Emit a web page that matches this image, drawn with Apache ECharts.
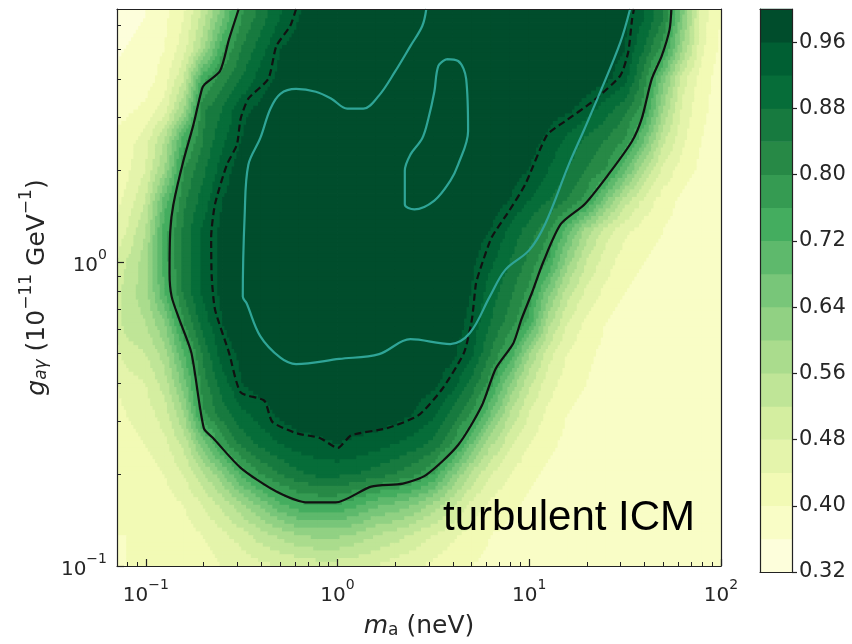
<!DOCTYPE html>
<html><head><meta charset="utf-8">
<script src="https://cdn.jsdelivr.net/npm/echarts@6.0.0/dist/echarts.min.js"></script>
<style>html,body{margin:0;padding:0;background:#fff}#chart{width:852px;height:644px}</style>
</head><body><div id="chart"></div>
<script>
// ---- grid nodes (log10 m_a [neV], log10 g [1e-11 GeV^-1]) ----
const X_NODES = [-1.2,-1.1,-1.0,-0.9,-0.8,-0.7,-0.6,-0.5,-0.4,-0.3,-0.2,-0.1,0.0,0.1,0.2,0.3,0.4,0.5,0.6,0.7,0.8,0.9,1.0,1.1,1.2,1.3,1.4,1.5,1.6,1.7,1.8,1.9,2.0];
const Y_NODES = [0.9,0.8,0.7,0.6,0.5,0.4,0.3,0.2,0.1,0.0,-0.1,-0.2,-0.3,-0.4,-0.5,-0.6,-0.7,-0.8,-0.9,-1.0];
// field values x100, one row per Y_NODES entry (top to bottom)
const F_090 = [35,35,36,38,42, 51,63,77,84,90, 95,98,99,99,99, 99,99,99,99,99, 99,99,99,99,99, 99,99,97,93,85, 68,48,41];
const F_080 = [35,35,36,39,44, 54,67,80,86,92, 96,98,99,99,99, 99,99,99,99,99, 99,99,99,99,99, 99,99,97,92,84, 65,46,40];
const F_070 = [35,36,37,40,46, 58,75,84,90,96, 98,99,99,99,99, 99,99,99,99,99, 99,99,99,99,99, 99,98,96,88,78, 60,45,39];
const F_060 = [36,37,38,42,52, 75,82,88,94,97, 99,99,99,99,99, 99,99,99,99,99, 99,99,99,99,99, 99,97,94,82,66, 50,42,38];
const F_050 = [38,39,41,46,60, 83,88,95,97,99, 99,99,99,99,99, 99,99,99,99,99, 99,99,99,98,97, 94,90,85,78,60, 47,41,38];
const F_040 = [40,42,46,56,74, 84,91,96,99,99, 99,99,99,99,99, 99,99,99,99,99, 99,99,98,95,91, 87,84,80,68,53, 45,40,37];
const F_030 = [40,43,48,60,80, 87,94,98,99,99, 99,99,99,99,99, 99,99,99,99,99, 99,98,96,92,88, 84,80,69,56,47, 42,39,37];
const F_020 = [41,45,52,70,83, 90,96,99,99,99, 99,99,99,99,99, 99,99,99,99,99, 98,96,92,88,84, 78,65,54,47,42, 39,37,36];
const F_010 = [42,48,56,74,85, 93,97,99,99,99, 99,99,99,99,99, 99,99,99,99,98, 96,91,86,81,70, 58,50,45,42,40, 38,37,36];
const F_000 = [44,52,58,74,85, 93,97,99,99,99, 99,99,99,99,99, 99,99,99,98,97, 93,88,83,76,62, 52,46,42,40,38, 37,36,36];
const F_m010 = [46,54,58,72,85, 93,97,99,99,99, 99,99,99,99,99, 99,99,99,98,96, 90,85,79,66,54, 47,43,40,38,37, 36,36,36];
const F_m020 = [46,54,56,64,80, 90,96,99,99,99, 99,99,99,99,99, 99,99,99,98,95, 88,82,75,58,48, 43,40,38,37,36, 36,36,36];
const F_m030 = [44,50,52,58,72, 85,94,97,99,99, 99,99,99,99,99, 99,99,98,97,93, 84,76,61,50,44, 41,39,38,37,36, 36,36,36];
const F_m040 = [42,46,48,54,66, 82,90,96,98,99, 99,99,99,99,99, 99,98,97,94,87, 78,64,53,46,42, 40,38,37,36,36, 36,36,36];
const F_m050 = [41,44,46,50,60, 79,86,91,94,97, 99,99,99,99,99, 98,96,93,87,80, 68,56,48,43,40, 38,37,36,36,36, 36,36,36];
const F_m060 = [40,42,44,47,53, 66,78,85,89,92, 94,95,96,95,94, 92,90,87,80,68, 57,49,44,41,39, 37,36,36,36,36, 36,36,36];
const F_m070 = [40,41,42,44,48, 55,63,73,80,84, 87,89,89,88,86, 84,81,76,65,55, 48,44,41,39,38, 37,36,36,36,36, 36,36,36];
const F_m080 = [40,40,41,42,44, 48,53,59,65,71, 75,76,76,73,69, 67,64,59,53,47, 43,41,39,38,37, 36,36,36,36,36, 36,36,36];
const F_m090 = [40,40,40,41,42, 44,47,50,54,57, 60,61,61,59,56, 54,51,48,45,42, 40,39,38,37,37, 36,36,36,36,36, 36,36,36];
const F_m100 = [39,40,40,40,41, 42,44,45,47,48, 49,50,50,49,48, 46,45,43,41,40, 39,38,37,37,36, 36,36,36,36,36, 36,36,36];
const FIELD = [F_090,F_080,F_070,F_060,F_050,F_040,F_030,F_020,F_010,F_000,F_m010,F_m020,F_m030,F_m040,F_m050,F_m060,F_m070,F_m080,F_m090,F_m100];

// ---- contour lines, [log10 m_a, log10 g] ----
const SOLID_LINE = [[-0.515,0.832],[-0.566,0.732],[-0.612,0.629],[-0.690,0.586],[-0.707,0.569],[-0.752,0.450],[-0.804,0.332],[-0.856,0.189],[-0.872,0.104],[-0.876,-0.038],[-0.865,-0.114],[-0.825,-0.189],[-0.762,-0.299],[-0.697,-0.547],[-0.649,-0.579],[-0.505,-0.677],[-0.319,-0.755],[-0.154,-0.791],[-0.010,-0.791],[0.176,-0.739],[0.341,-0.729],[0.463,-0.700],[0.629,-0.602],[0.753,-0.472],[0.825,-0.351],[0.917,-0.267],[0.959,-0.189],[1.016,-0.098],[1.073,0.000],[1.165,0.125],[1.289,0.190],[1.412,0.287],[1.536,0.397],[1.587,0.472],[1.639,0.602],[1.691,0.678],[1.732,0.765],[1.741,0.832]];
const DASHED_LINE = [[-0.216,0.832],[-0.247,0.776],[-0.319,0.710],[-0.361,0.602],[-0.465,0.537],[-0.505,0.472],[-0.525,0.385],[-0.577,0.320],[-0.639,0.190],[-0.659,0.081],[-0.656,-0.049],[-0.639,-0.156],[-0.566,-0.298],[-0.505,-0.429],[-0.382,-0.456],[-0.340,-0.526],[-0.216,-0.563],[-0.092,-0.579],[0.001,-0.612],[0.072,-0.570],[0.258,-0.547],[0.423,-0.504],[0.547,-0.417],[0.660,-0.298],[0.701,-0.189],[0.722,-0.071],[0.743,-0.026],[0.804,0.081],[0.896,0.169],[0.979,0.255],[1.093,0.418],[1.185,0.462],[1.329,0.527],[1.475,0.613],[1.516,0.690],[1.536,0.797],[1.546,0.832]];
const TEAL_OUTER = [[0.463,0.832],[0.442,0.776],[0.380,0.710],[0.299,0.625],[0.217,0.548],[0.135,0.504],[0.051,0.504],[-0.032,0.537],[-0.113,0.560],[-0.216,0.569],[-0.298,0.553],[-0.350,0.504],[-0.403,0.407],[-0.465,0.320],[-0.484,0.157],[-0.494,-0.114],[-0.474,-0.136],[-0.403,-0.244],[-0.298,-0.315],[-0.216,-0.336],[0.009,-0.319],[0.217,-0.303],[0.380,-0.254],[0.588,-0.270],[0.691,-0.233],[0.794,-0.114],[0.875,-0.026],[1.000,0.039],[1.083,0.125],[1.206,0.320],[1.289,0.439],[1.371,0.560],[1.475,0.722],[1.526,0.832]];
const TEAL_ISLAND = [[0.567,0.667],[0.629,0.661],[0.671,0.602],[0.681,0.430],[0.629,0.320],[0.588,0.267],[0.505,0.202],[0.401,0.173],[0.351,0.190],[0.351,0.300],[0.380,0.353],[0.442,0.407],[0.474,0.472],[0.505,0.560],[0.526,0.645],[0.567,0.667]];

// ---- axes / colorbar ----
const X_MIN = -1.15, X_MAX = 2.0, Y_MIN = -1.0, Y_MAX = 0.832;
const X_MAJOR = [-1, 0, 1, 2];
const Y_MAJOR = [-1, 0];
const MINOR_MULT = [2,3,4,5,6,7,8,9];
const CB_LEVELS = [0.32,0.36,0.40,0.44,0.48,0.52,0.56,0.60,0.64,0.68,0.72,0.76,0.80,0.84,0.88,0.92,0.96,1.00];
const CB_COLORS = ['#fdfedb','#f9fdc6','#f2fab5','#e4f4ab','#d4eea0','#bfe597','#aadc8d','#91d183','#78c679','#5eb96c','#44ad5f','#359b52','#278946','#177a3f','#066d39','#005f33','#004d2c'];
const CB_TICKS = [0.32,0.40,0.48,0.56,0.64,0.72,0.80,0.88,0.96];
const ANNOTATION = 'turbulent ICM';

function minorTicks(lo, hi){
  const out=[];
  for(let d=Math.floor(lo)-1; d<=Math.ceil(hi); d++){
    MINOR_MULT.forEach(m=>{const v=d+Math.log10(m); if(v>lo && v<hi) out.push(v);});
  }
  return out;
}
function bandColor(v){
  let k=Math.floor((v-CB_LEVELS[0])/0.04+1e-9);
  if(k<0)k=0; if(k>CB_COLORS.length-1)k=CB_COLORS.length-1;
  return CB_COLORS[k];
}

const cells=[];
for(let j=0;j<Y_NODES.length-1;j++){
  for(let i=0;i<X_NODES.length-1;i++){
    cells.push([X_NODES[i],Y_NODES[j],X_NODES[i+1],Y_NODES[j+1],
      FIELD[j][i]/100,FIELD[j][i+1]/100,FIELD[j+1][i]/100,FIELD[j+1][i+1]/100]);
  }
}

function renderField(params, api){
  const x0=api.value(0),y0=api.value(1),x1=api.value(2),y1=api.value(3);
  const v00=api.value(4),v10=api.value(5),v01=api.value(6),v11=api.value(7);
  const pA=api.coord([x0,y0]), pB=api.coord([x1,y1]);
  const N=8, dx=(pB[0]-pA[0])/N, dy=(pB[1]-pA[1])/N;
  const kids=[];
  for(let b=0;b<N;b++){
    const fy=(b+0.5)/N;
    let start=0, cur=null;
    for(let a=0;a<=N;a++){
      let c=null;
      if(a<N){
        const fx=(a+0.5)/N;
        const v=(1-fx)*(1-fy)*v00+fx*(1-fy)*v10+(1-fx)*fy*v01+fx*fy*v11;
        c=bandColor(v);
      }
      if(c!==cur){
        if(cur!==null){
          const xa=pA[0]+dx*start, xb=pA[0]+dx*a, ya=pA[1]+dy*b, yb=pA[1]+dy*(b+1);
          kids.push({type:'rect',shape:{x:Math.min(xa,xb)-0.4,y:Math.min(ya,yb)-0.4,width:Math.abs(xb-xa)+0.8,height:Math.abs(yb-ya)+0.8},style:{fill:cur}});
        }
        start=a; cur=c;
      }
    }
  }
  return {type:'group',children:kids};
}
function renderBar(params, api){
  const lo=api.value(0), hi=api.value(1), k=api.value(2);
  const p0=api.coord([0,lo]), p1=api.coord([1,hi]);
  return {type:'rect',shape:{x:p0[0],y:p1[1]-0.3,width:p1[0]-p0[0],height:p0[1]-p1[1]+0.6},style:{fill:CB_COLORS[k]}};
}

const FONT='DejaVu Sans', TXT='#262626', LINE='#222';
const powRich={
  b:{fontFamily:FONT,fontSize:20,color:TXT,lineHeight:28,verticalAlign:'bottom'},
  s:{fontFamily:FONT,fontSize:14,color:TXT,lineHeight:15,verticalAlign:'top'}
};
function powLabel(v){const e=Math.round(v);return '{b|10}{s|'+(e<0?'\u2212'+(-e):e)+'}';}
const noLine={show:false,onZero:false};
const frame={show:true,onZero:false,lineStyle:{color:LINE,width:1.2}};

const option={
  animation:false,
  backgroundColor:'#ffffff',
  grid:[
    {left:117,top:9,width:604,height:563},
    {left:760,top:9,width:32,height:563}
  ],
  xAxis:[
    {type:'value',gridIndex:0,min:X_MIN,max:X_MAX,position:'bottom',z:10,
     axisLine:frame,splitLine:{show:false},
     axisTick:{show:true,inside:true,length:7,customValues:X_MAJOR,lineStyle:{color:LINE,width:1.2}},
     axisLabel:{show:true,customValues:X_MAJOR,margin:12,formatter:powLabel,rich:powRich},
     name:'{mi|m}{sub|a}{b| (neV)}',nameLocation:'middle',nameGap:43,
     nameTextStyle:{rich:{
       mi:{fontFamily:FONT,fontStyle:'italic',fontSize:25,color:TXT,lineHeight:30,verticalAlign:'bottom'},
       sub:{fontFamily:FONT,fontSize:17,color:TXT,lineHeight:24,verticalAlign:'bottom'},
       b:{fontFamily:FONT,fontSize:25,color:TXT,lineHeight:30,verticalAlign:'bottom'}}}},
    {type:'value',gridIndex:0,min:X_MIN,max:X_MAX,position:'bottom',z:10,
     axisLine:noLine,splitLine:{show:false},axisLabel:{show:false},
     axisTick:{show:true,inside:true,length:4,customValues:minorTicks(X_MIN,X_MAX),lineStyle:{color:LINE,width:1}}},
    {type:'value',gridIndex:0,min:X_MIN,max:X_MAX,position:'top',z:10,
     axisLine:frame,splitLine:{show:false},axisLabel:{show:false},axisTick:{show:false}},
    {type:'value',gridIndex:1,min:0,max:1,position:'bottom',z:10,
     axisLine:frame,splitLine:{show:false},axisLabel:{show:false},axisTick:{show:false}},
    {type:'value',gridIndex:1,min:0,max:1,position:'top',z:10,
     axisLine:frame,splitLine:{show:false},axisLabel:{show:false},axisTick:{show:false}}
  ],
  yAxis:[
    {type:'value',gridIndex:0,min:Y_MIN,max:Y_MAX,position:'left',z:10,
     axisLine:frame,splitLine:{show:false},
     axisTick:{show:true,inside:true,length:7,customValues:Y_MAJOR,lineStyle:{color:LINE,width:1.2}},
     axisLabel:{show:true,customValues:Y_MAJOR,margin:10,formatter:powLabel,rich:powRich},
     name:'{gi|g}{sub|a\u03b3}{b| (10}{sup|\u221211}{b| GeV}{sup|\u22121}{b|)}',
     nameLocation:'middle',nameGap:55,nameRotate:90,
     nameTextStyle:{rich:{
       gi:{fontFamily:FONT,fontStyle:'italic',fontSize:25,color:TXT,lineHeight:32,verticalAlign:'bottom'},
       sub:{fontFamily:FONT,fontStyle:'italic',fontSize:17,color:TXT,lineHeight:24,verticalAlign:'bottom'},
       b:{fontFamily:FONT,fontSize:25,color:TXT,lineHeight:32,verticalAlign:'bottom'},
       sup:{fontFamily:FONT,fontSize:17,color:TXT,lineHeight:18,verticalAlign:'top'}}}},
    {type:'value',gridIndex:0,min:Y_MIN,max:Y_MAX,position:'left',z:10,
     axisLine:noLine,splitLine:{show:false},axisLabel:{show:false},
     axisTick:{show:true,inside:true,length:4,customValues:minorTicks(Y_MIN,Y_MAX),lineStyle:{color:LINE,width:1}}},
    {type:'value',gridIndex:0,min:Y_MIN,max:Y_MAX,position:'right',z:10,
     axisLine:frame,splitLine:{show:false},axisLabel:{show:false},axisTick:{show:false}},
    {type:'value',gridIndex:1,min:0.32,max:1.0,position:'right',z:10,
     axisLine:frame,splitLine:{show:false},
     axisTick:{show:true,inside:false,length:5,customValues:CB_TICKS,lineStyle:{color:LINE,width:1.2}},
     axisLabel:{show:true,customValues:CB_TICKS,margin:7,fontFamily:FONT,fontSize:21,color:TXT,formatter:v=>v.toFixed(2)}},
    {type:'value',gridIndex:1,min:0.32,max:1.0,position:'left',z:10,
     axisLine:frame,splitLine:{show:false},axisLabel:{show:false},axisTick:{show:false}}
  ],
  series:[
    {type:'custom',name:'field',xAxisIndex:0,yAxisIndex:0,clip:true,z:1,
     renderItem:renderField,encode:{x:[0,2],y:[1,3]},data:cells,silent:true},
    {type:'custom',name:'colorbar',xAxisIndex:3,yAxisIndex:3,z:1,
     renderItem:renderBar,encode:{y:[0,1]},
     data:CB_LEVELS.slice(0,-1).map((lo,k)=>[lo,CB_LEVELS[k+1],k]),silent:true},
    {type:'line',name:'solid',xAxisIndex:0,yAxisIndex:0,data:SOLID_LINE,showSymbol:false,clip:true,z:4,smooth:0.25,
     lineStyle:{color:'#111',width:2.2}},
    {type:'line',name:'dashed',xAxisIndex:0,yAxisIndex:0,data:DASHED_LINE,showSymbol:false,clip:true,z:4,smooth:0.2,
     lineStyle:{color:'#111',width:2.2,type:[7,4]}},
    {type:'line',name:'teal',xAxisIndex:0,yAxisIndex:0,data:TEAL_OUTER,showSymbol:false,clip:true,z:4,smooth:0.35,
     lineStyle:{color:'#2fa597',width:2.2}},
    {type:'line',name:'teal island',xAxisIndex:0,yAxisIndex:0,data:TEAL_ISLAND,showSymbol:false,clip:true,z:4,smooth:0.35,
     lineStyle:{color:'#2fa597',width:2.2}}
  ],
  graphic:[
    {type:'text',left:443,top:497,z:20,style:{text:ANNOTATION,fontFamily:'Liberation Sans',fontSize:42,fill:'#000'}}
  ]
};
const chart=echarts.init(document.getElementById('chart'),null,{renderer:'canvas'});
chart.setOption(option);
</script>
</body></html>
